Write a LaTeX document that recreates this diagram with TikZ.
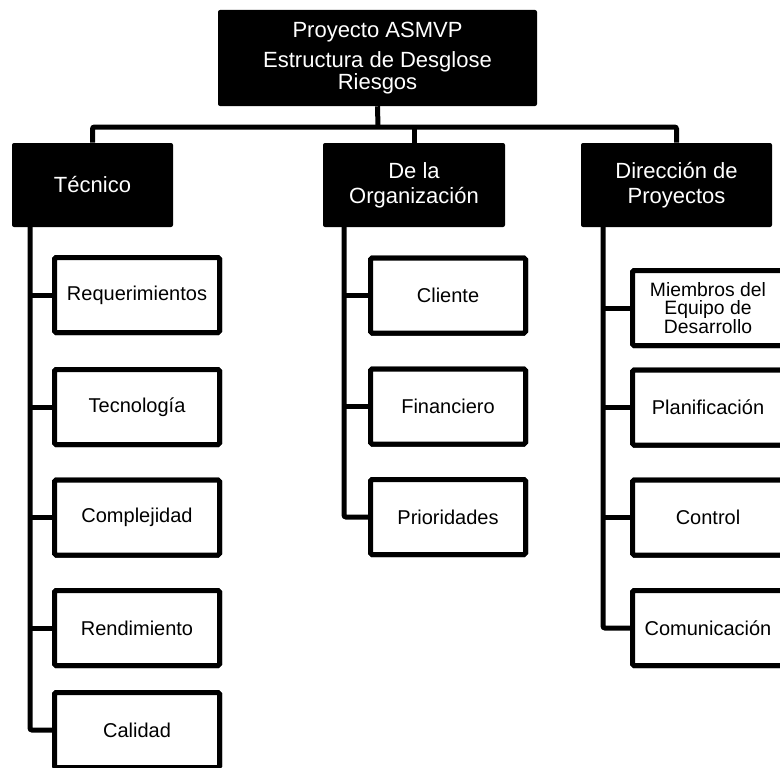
\documentclass[tikz,border=0pt]{standalone}
\usepackage{fontspec}
\setmainfont{Liberation Sans}
\begin{document}
\begin{tikzpicture}[x=0.75pt,y=-0.75pt,
  headbox/.style={fill=black, text=white, rounded corners=1.5pt, inner sep=0pt,
    align=center, font=\fontsize{16.5}{18.75}\selectfont},
  childbox/.style={draw=black, line width=3.75pt, fill=white, rounded corners=1.2pt,
    inner sep=0pt, align=center, minimum height=56.25pt,
    font=\fontsize{15}{14.5}\selectfont},
  leftchild/.style={childbox, minimum width=123.75pt},
  midchild/.style={childbox, minimum width=116.25pt},
  rightchild/.style={childbox, minimum width=113.25pt},
  conn/.style={line width=3.75pt, rounded corners=1.5pt}
]
\useasboundingbox (0,0) rectangle (780,767);
\clip (0,0) rectangle (780,767);

% top box
\node[headbox, minimum width=239.25pt, minimum height=72pt] (top) at (377.5,58) {};
\node[text=white, font=\fontsize{16.5}{15}\selectfont, align=center, inner sep=0pt]
  (toptext) at (377.5,58) {Proyecto ASMVP\\[6pt]Estructura de Desglose\\Riesgos};

% headers
\node[headbox, minimum width=120.75pt, minimum height=63pt] (tec) at (92.5,185) {Técnico};
\node[headbox, minimum width=136.5pt, minimum height=63pt] (org) at (414,185) {De la\\Organización};
\node[headbox, minimum width=143.25pt, minimum height=63pt] (dir) at (676.5,185) {Dirección de\\Proyectos};

% hub
\coordinate (hub) at (378,127);
\draw[conn] (top.south) -- (hub);
\draw[conn] (tec.north) |- (hub) -| (dir.north);
\draw[conn] (org.north) -- (org.north |- hub);

% trunk anchors
\coordinate (lt) at (30,227);
\coordinate (mt) at (344,227);
\coordinate (rt) at (603,227);

% left children
\node[leftchild] (req) at (137,295) {};
\node[leftchild] (tecn) at (137,407) {};
\node[leftchild] (comp) at (137,517.5) {};
\node[leftchild] (rend) at (137,628) {};
\node[leftchild] (cal) at (137,730) {};

% middle children
\node[midchild] (cli) at (448,295.5) {};
\node[midchild] (fin) at (448,406.5) {};
\node[midchild] (pri) at (448,517) {};

% right children
\node[rightchild] (mie) at (708,308) {};
\node[rightchild] (pla) at (708,407.5) {};
\node[rightchild] (con) at (708,517.5) {};
\node[rightchild] (com) at (708,628) {};

% trunks and branches
\draw[conn] (lt) |- (cal.west);
\foreach \n in {req,tecn,comp,rend} \draw[conn] (lt |- \n.west) -- (\n.west);
\draw[conn] (mt) |- (pri.west);
\foreach \n in {cli,fin} \draw[conn] (mt |- \n.west) -- (\n.west);
\draw[conn] (rt) |- (com.west);
\foreach \n in {mie,pla,con} \draw[conn] (rt |- \n.west) -- (\n.west);

% boxes with texts drawn over the joints
\node[leftchild] at (req) {Requerimientos};
\node[leftchild] at (tecn) {Tecnología};
\node[leftchild] at (comp) {Complejidad};
\node[leftchild] at (rend) {Rendimiento};
\node[leftchild] at (cal) {Calidad};
\node[midchild] at (cli) {Cliente};
\node[midchild] at (fin) {Financiero};
\node[midchild] at (pri) {Prioridades};
\node[rightchild, font=\fontsize{14.5}{13.5}\selectfont] at (mie) {Miembros del\\Equipo de\\Desarrollo};
\node[rightchild] at (pla) {Planificación};
\node[rightchild] at (con) {Control};
\node[rightchild] at (com) {Comunicación};
\end{tikzpicture}
\end{document}
